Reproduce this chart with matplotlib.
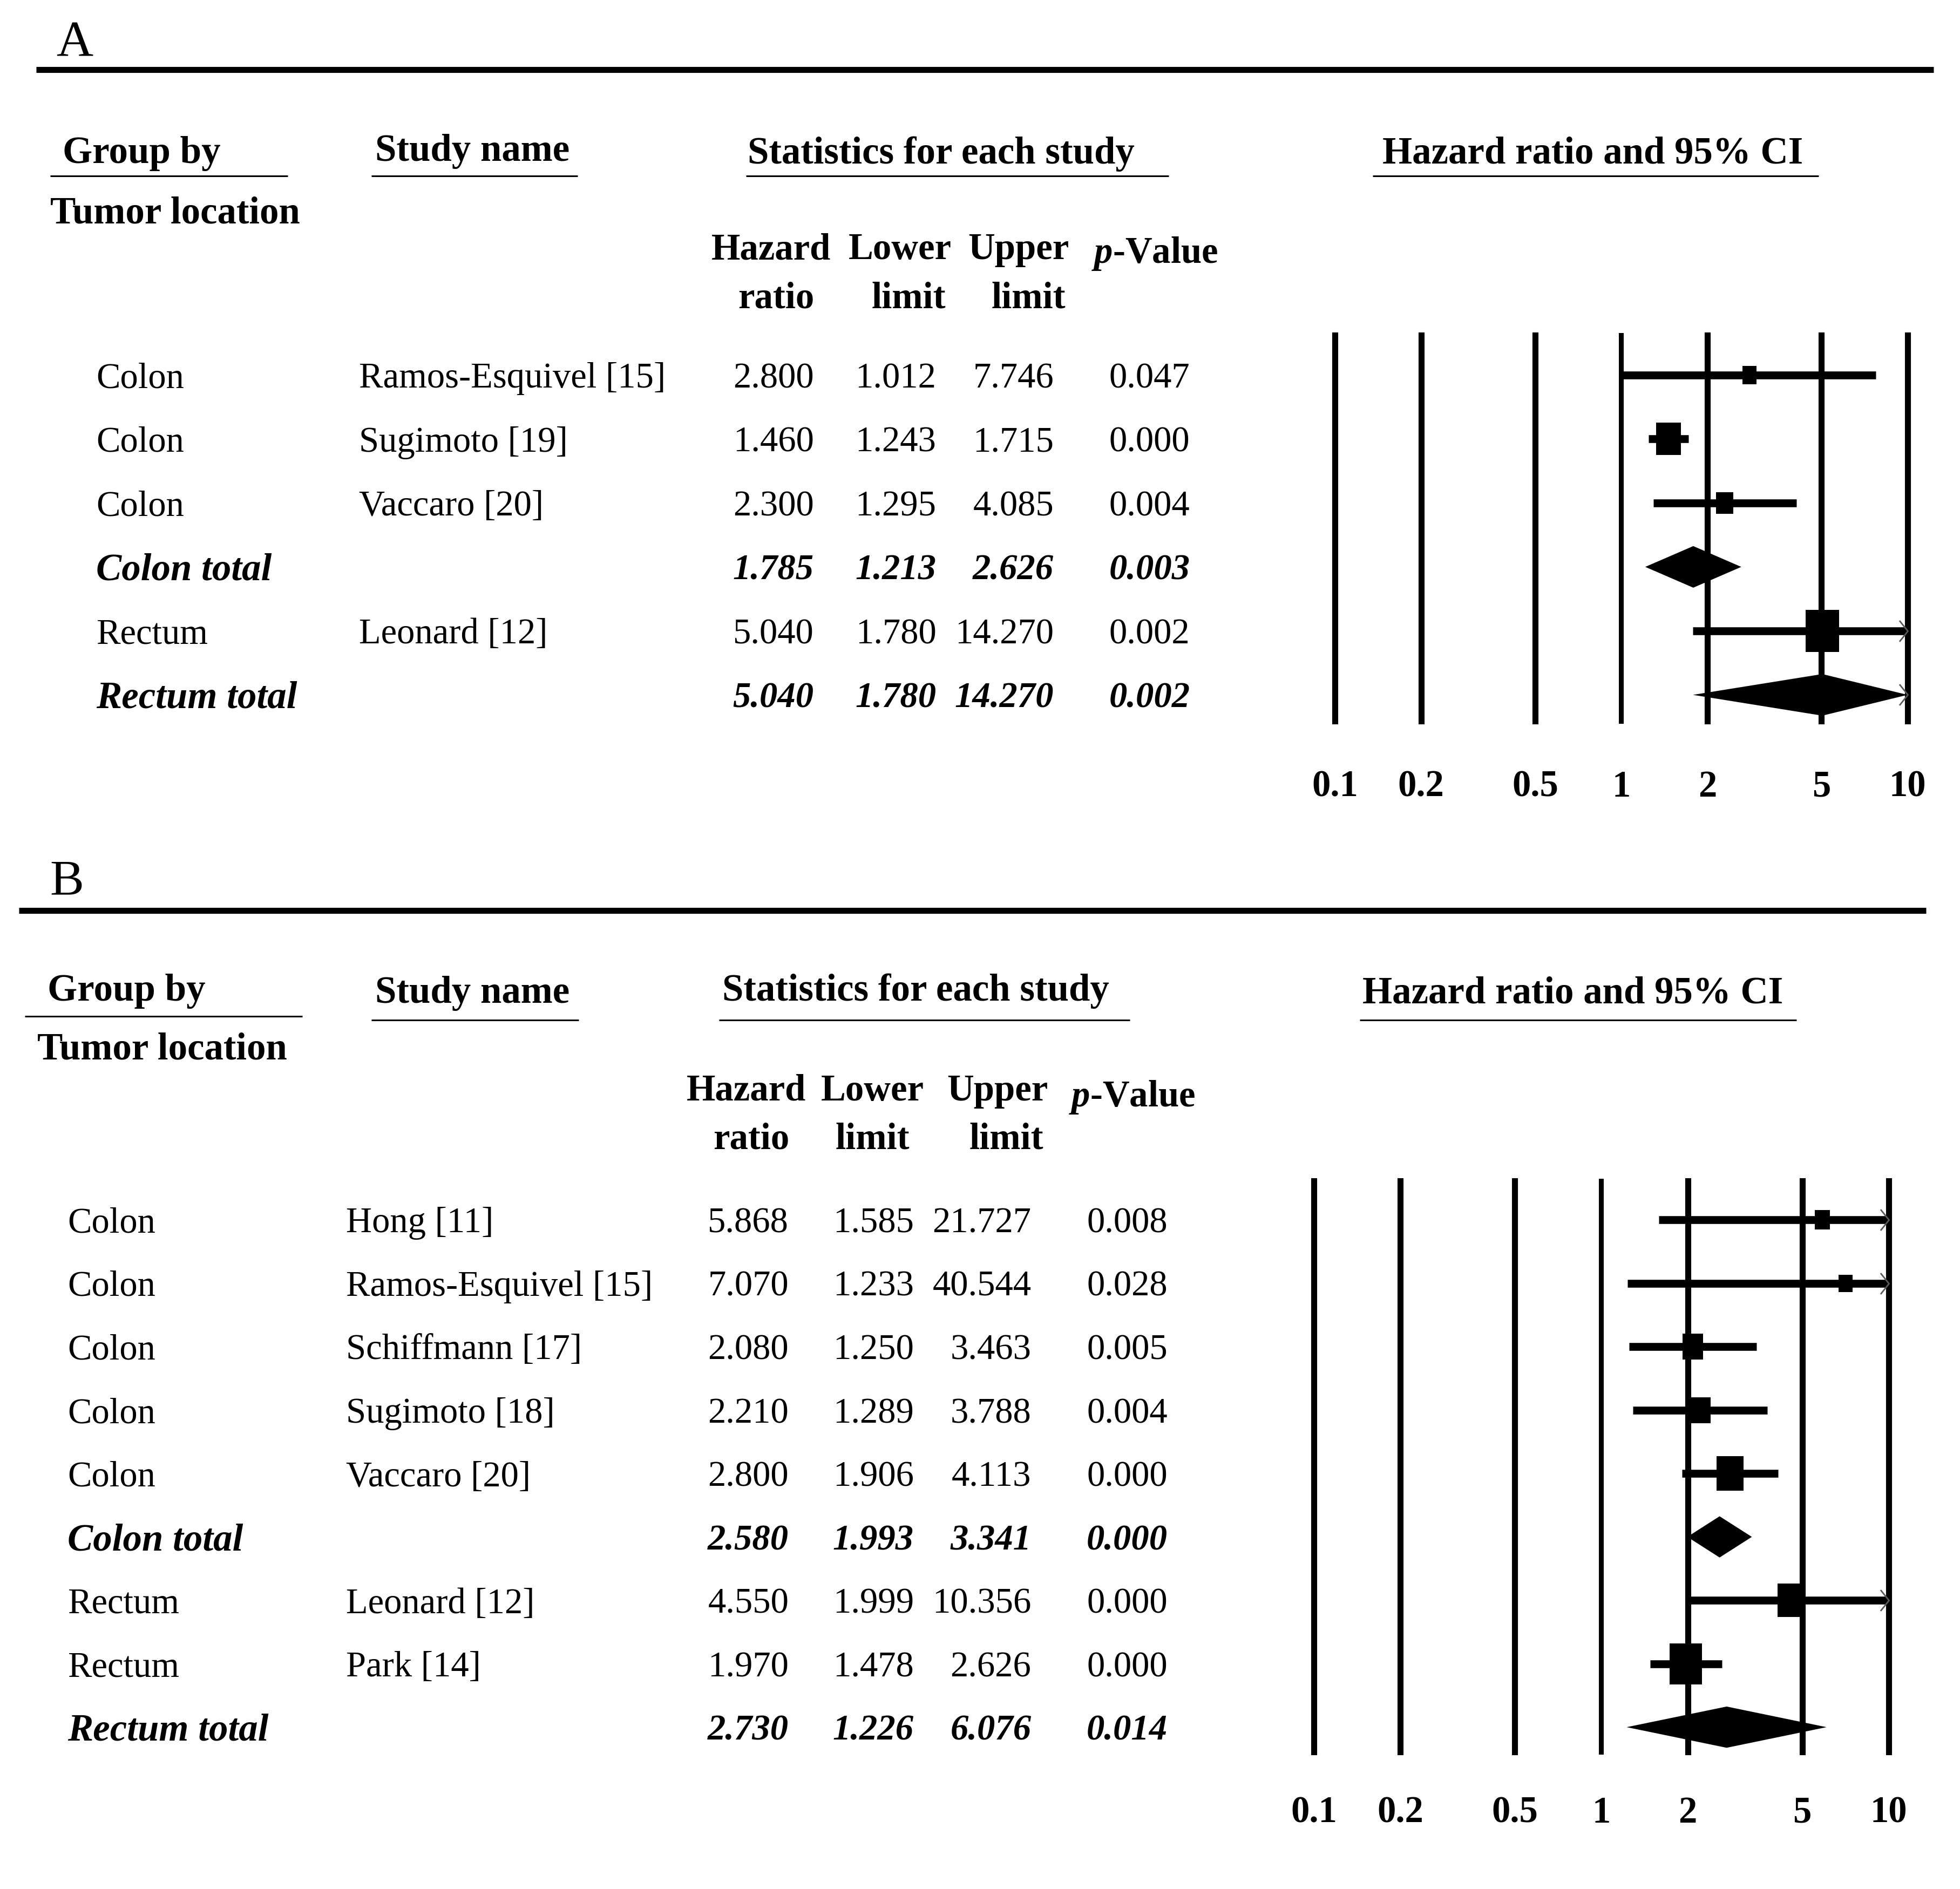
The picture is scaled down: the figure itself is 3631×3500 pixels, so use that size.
import numpy as np
import matplotlib
matplotlib.use("Agg")
import matplotlib.pyplot as plt

plt.rcParams['font.family'] = ['Liberation Serif', 'DejaVu Serif']
plt.rcParams['mathtext.fontset'] = 'custom'
plt.rcParams['mathtext.it'] = 'Liberation Serif:italic:bold'
plt.rcParams['mathtext.rm'] = 'Liberation Serif:bold'

# ---- panel A data (tumor location, overall survival)
a_group = ['Colon', 'Colon', 'Colon', 'Colon total', 'Rectum', 'Rectum total']
a_study = ['Ramos-Esquivel [15]', 'Sugimoto [19]', 'Vaccaro [20]', '', 'Leonard [12]', '']
a_hr = [2.800, 1.460, 2.300, 1.785, 5.040, 5.040]
a_lo = [1.012, 1.243, 1.295, 1.213, 1.780, 1.780]
a_hi = [7.746, 1.715, 4.085, 2.626, 14.270, 14.270]
a_p = ['0.047', '0.000', '0.004', '0.003', '0.002', '0.002']
a_total = [False, False, False, True, False, True]
a_weight = [15, 26, 17.5, 0, 34, 0]   # relative box size of each study

# ---- panel B data
b_group = ['Colon', 'Colon', 'Colon', 'Colon', 'Colon', 'Colon total',
           'Rectum', 'Rectum', 'Rectum total']
b_study = ['Hong [11]', 'Ramos-Esquivel [15]', 'Schiffmann [17]', 'Sugimoto [18]',
           'Vaccaro [20]', '', 'Leonard [12]', 'Park [14]', '']
b_hr = [5.868, 7.070, 2.080, 2.210, 2.800, 2.580, 4.550, 1.970, 2.730]
b_lo = [1.585, 1.233, 1.250, 1.289, 1.906, 1.993, 1.999, 1.478, 1.226]
b_hi = [21.727, 40.544, 3.463, 3.788, 4.113, 3.341, 10.356, 2.626, 6.076]
b_p = ['0.008', '0.028', '0.005', '0.004', '0.000', '0.000', '0.000', '0.000', '0.014']
b_total = [False, False, False, False, False, True, False, False, True]
b_weight = [16, 14, 21, 21, 28, 0, 27, 33, 0]

ticks = [0.1, 0.2, 0.5, 1, 2, 5, 10]
tick_labels = ['0.1', '0.2', '0.5', '1', '2', '5', '10']

W, H = 1568, 1511.5   # layout units (reference at reduced scale)
FS = 48     # body text
FSB = 51    # bold header text (Palatino-like widths)
FSC = 49.5  # column headers
TY = 3      # text baseline nudge
fig = plt.figure(figsize=(36.31, 35), dpi=100)
bg = fig.add_axes([0, 0, 1, 1])
bg.set_xlim(0, W)
bg.set_ylim(H, 0)
bg.axis('off')

box = [(-0.39, -0.5), (0.39, -0.5), (0.39, 0.5), (-0.39, 0.5), (-0.39, -0.5)]
chev = [(-0.8, 1), (0, 0), (-0.8, -1)]
PT = 1.66  # layout unit -> points


def hline(x0, x1, y, lw):
    bg.plot([x0, x1], [y, y], color='black', lw=lw, solid_capstyle='butt')


def panel(L, group, study, hr, lo, hi, p, total, weight):
    bg.text(L['lx'], L['ly'] + TY, L['letter'], fontsize=68, va='center')
    hline(L['rule'][0], L['rule'][1], L['rule'][2], 8)
    for txt, x, y in L['heads']:
        bg.text(x, y + TY, txt, fontsize=FSB, fontweight='bold', va='center')
    for x0, x1, y in L['unders']:
        hline(x0, x1, y, 2.2)
    for txt, x, y in L['cols']:
        bg.text(x, y + TY, txt, fontsize=FSC, fontweight='bold', va='center', ha='center')
    bg.text(L['pv'][0], L['pv'][1] + TY, r'$p$-Value', fontsize=FSC, fontweight='bold', va='center')

    y0, dy = L['row0'], L['dy']
    for i in range(len(group)):
        y = y0 + i * dy + TY
        kw = dict(fontsize=FS, va='center')
        if total[i]:
            kw.update(fontweight='bold', style='italic')
        bg.text(L['gx'], y, group[i], **dict(kw, fontsize=FSB if total[i] else FS))
        bg.text(L['sx'], y, study[i], **kw)
        for val, xr in zip([f'{hr[i]:.3f}', f'{lo[i]:.3f}', f'{hi[i]:.3f}', p[i]], L['numx']):
            bg.text(xr, y, val, ha='right', **kw)

    # forest plot
    fx0, fx1, fy0, fy1 = L['forest']
    ax = fig.add_axes([fx0 / W, 1 - fy1 / H, (fx1 - fx0) / W, (fy1 - fy0) / H])
    ax.set_xscale('log')
    ax.set_xlim(0.1, 10)
    ax.set_ylim((fy1 - y0) / dy, (fy0 - y0) / dy)
    ax.axis('off')
    for t in ticks:
        ax.axvline(t, color='black', lw=6.5 if t == 1 else 8, clip_on=False)
    ylab = (L['tick_y'] + TY - y0) / dy
    for t, s in zip(ticks, tick_labels):
        ax.text(t, ylab, s, ha='center', va='center', fontsize=FSC, fontweight='bold', clip_on=False)
    for i in range(len(hr)):
        right = min(hi[i], 10)
        if total[i]:
            h = 0.65
            ax.fill([lo[i], hr[i], right, hr[i]], [i, i - h / 2, i, i + h / 2],
                    color='black', lw=0, clip_on=False, zorder=3)
        else:
            ax.plot([lo[i], right], [i, i], color='black', lw=10.5,
                    solid_capstyle='butt', clip_on=False, zorder=3)
            ax.plot(hr[i], i, marker=box, ms=weight[i] * PT, color='black',
                    mew=0, clip_on=False, zorder=4)
        if hi[i] > 10:
            ax.plot(10, i, marker=chev, ms=28, mfc='none', mec='0.35', mew=2,
                    clip_on=False, zorder=5)


lay_a = dict(
    letter='A', lx=45, ly=32, rule=(29, 1547, 55.5),
    heads=[('Group by', 50, 120), ('Tumor location', 40, 168), ('Study name', 300, 118),
           ('Statistics for each study', 598, 120), ('Hazard ratio and 95% CI', 1106, 120)],
    unders=[(40, 230, 141), (297, 462, 141), (597, 935, 141), (1098, 1455, 141)],
    cols=[('Hazard', 617, 197), ('ratio', 621, 236), ('Lower', 720, 197), ('limit', 727, 236),
          ('Upper', 815, 197), ('limit', 823, 236)],
    pv=(873, 200), row0=300, dy=51.2, gx=77, sx=287, numx=[651, 749, 843, 952],
    forest=(1068, 1526, 268, 577), tick_y=627)

lay_b = dict(
    letter='B', lx=40, ly=703, rule=(15, 1541, 728.5),
    heads=[('Group by', 38, 790), ('Tumor location', 30, 837), ('Study name', 300, 792),
           ('Statistics for each study', 578, 790), ('Hazard ratio and 95% CI', 1090, 792)],
    unders=[(20, 242, 813), (297, 463, 816), (575, 904, 816), (1088, 1437, 816)],
    cols=[('Hazard', 597, 870), ('ratio', 601, 909), ('Lower', 698, 870), ('limit', 698, 909),
          ('Upper', 798, 870), ('limit', 805, 909)],
    pv=(855, 875), row0=976, dy=50.75, gx=54, sx=277, numx=[631, 731, 825, 934],
    forest=(1051, 1511, 945, 1402), tick_y=1448)

panel(lay_a, a_group, a_study, a_hr, a_lo, a_hi, a_p, a_total, a_weight)
panel(lay_b, b_group, b_study, b_hr, b_lo, b_hi, b_p, b_total, b_weight)

fig.savefig('out.png', dpi=100, facecolor='white')
